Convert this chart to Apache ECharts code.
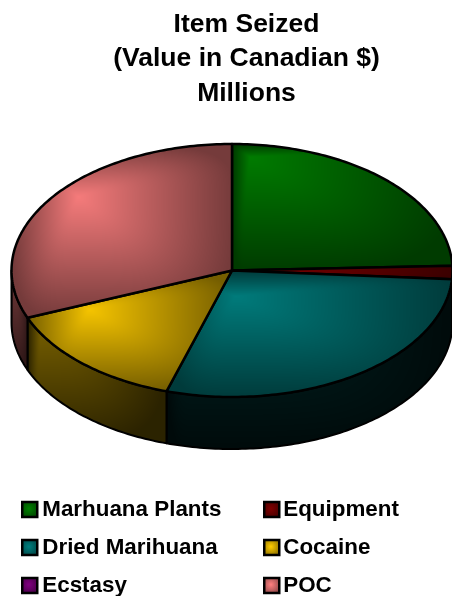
<!DOCTYPE html>
<html>
<head>
<meta charset="utf-8">
<style>html,body{margin:0;padding:0;background:#fff}#chart{width:452px;height:596px}</style>
<script src="https://cdn.jsdelivr.net/npm/echarts@6/dist/echarts.min.js"></script>
</head>
<body>
<div id="chart"></div>
<script>
// Seizure shares per item, clockwise from twelve o'clock
const categories = ['Marhuana Plants', 'Equipment', 'Dried Marihuana', 'Cocaine', 'Ecstasy', 'POC'];
const seizedValues = [24.4, 1.7, 28.7, 14.1, 0, 31.1];
const baseColors = [[0, 128, 0], [128, 0, 0], [0, 128, 128], [255, 204, 0], [128, 0, 128], [255, 128, 128]];
// Brightness of the rim wall: [top/left, bottom/right]
const wallShade = [[0.4, 0.2], [0.3, 0.12], [0.32, 0.08], [0.48, 0.17], [0.4, 0.18], [0.44, 0.18]];
// Where the highlight sits on each top face, as a fraction of its box
const topFocus = [[0.08, 0.1], [0.1, 0.3], [0.24, 0.2], [0.3, 0.32], [0.3, 0.3], [0.3, 0.3]];
// Legend rows and columns
const legendRows = [0, 0, 1, 1, 2, 2];
const legendCols = [0, 1, 0, 1, 0, 1];

// Tilted disc layout
const CX = 232, CY = 270.5, RX = 220.5, RY = 126.5, DEPTH = 52;
const W = 452, H = 596;

const total = seizedValues.reduce((a, b) => a + b, 0);
const spans = [];
seizedValues.reduce((acc, v) => {
  const end = acc + v / total * 360;
  spans.push([acc, end]);
  return end;
}, 0);

const px = deg => CX + RX * Math.sin(deg * Math.PI / 180);
const py = deg => CY - RY * Math.cos(deg * Math.PI / 180);

function arcPoints(a, b, dy) {
  const pts = [];
  const n = Math.max(1, Math.ceil(Math.abs(b - a)));
  for (let i = 0; i <= n; i++) {
    const d = a + (b - a) * i / n;
    pts.push([px(d), py(d) + dy]);
  }
  return pts;
}

// Two-axis shading: brightest at a focus, falling off toward the box edges
function texture(box, focus, rgb, hi, lo) {
  const c = document.createElement('canvas');
  c.width = W; c.height = H;
  const ctx = c.getContext('2d');
  const img = ctx.createImageData(W, H);
  const fx = box[0] + (box[2] - box[0]) * focus[0];
  const fy = box[1] + (box[3] - box[1]) * focus[1];
  for (let y = 0; y < H; y++) {
    for (let x = 0; x < W; x++) {
      const dx = x < fx ? (fx - x) / Math.max(1, fx - box[0]) : (x - fx) / Math.max(1, box[2] - fx);
      const dy = y < fy ? (fy - y) / Math.max(1, fy - box[1]) : (y - fy) / Math.max(1, box[3] - fy);
      const t = Math.min(1, Math.pow(Math.pow(dx, 4) + Math.pow(dy, 4), 0.25));
      const k = hi + (lo - hi) * t;
      const o = (y * W + x) * 4;
      img.data[o] = rgb[0] * k;
      img.data[o + 1] = rgb[1] * k;
      img.data[o + 2] = rgb[2] * k;
      img.data[o + 3] = 255;
    }
  }
  ctx.putImageData(img, 0, 0);
  return c;
}

function bounds(pts) {
  const xs = pts.map(p => p[0]), ys = pts.map(p => p[1]);
  return [Math.min(...xs), Math.min(...ys), Math.max(...xs), Math.max(...ys)];
}

function sliceElements(i) {
  const [a, b] = spans[i];
  const children = [];
  if (b - a <= 0) return children;

  // Rim wall for the part of the slice that faces the viewer
  const wa = Math.max(a, 90), wb = Math.min(b, 270);
  if (wb > wa) {
    const pts = arcPoints(wa, wb, 0).concat(arcPoints(wb, wa, DEPTH));
    children.push({
      type: 'polygon',
      shape: { points: pts },
      style: {
        fill: { image: texture(bounds(pts), [0.1, 0], baseColors[i], wallShade[i][0], wallShade[i][1]), repeat: 'no-repeat' },
        stroke: '#000', lineWidth: 2, lineJoin: 'round'
      }
    });
  }

  // Top face
  const pts = [[CX, CY]].concat(arcPoints(a, b, 0));
  children.push({
    type: 'polygon',
    z2: 10,
    shape: { points: pts },
    style: {
      fill: { image: texture(bounds(pts), topFocus[i], baseColors[i], 0.96, 0.46), repeat: 'no-repeat' },
      stroke: '#000', lineWidth: 2.5, lineJoin: 'round'
    }
  });
  return children;
}

function swatch(i) {
  const [r, g, b] = baseColors[i];
  return {
    type: 'radial', x: 0.45, y: 0.45, r: 0.7,
    colorStops: [
      { offset: 0, color: `rgb(${r},${g},${b})` },
      { offset: 1, color: `rgb(${r * 0.45},${g * 0.45},${b * 0.45})` }
    ]
  };
}

const chart = echarts.init(document.getElementById('chart'), null, { renderer: 'canvas' });
chart.setOption({
  animation: false,
  backgroundColor: '#fff',
  title: {
    text: 'Item Seized\n(Value in Canadian $)\nMillions',
    left: 246.5, top: 7, textAlign: 'center', padding: 0,
    textStyle: { fontFamily: 'Liberation Sans', fontWeight: 'bold', fontSize: 26.5, lineHeight: 34.5, color: '#000' }
  },
  legend: categories.map((name, i) => ({
    left: legendCols[i] ? 263 : 21,
    top: 498.5 + legendRows[i] * 38,
    itemWidth: 15, itemHeight: 15, itemGap: 0, padding: 0,
    selectedMode: false,
    textStyle: { fontFamily: 'Liberation Sans', fontWeight: 'bold', fontSize: 22.4, color: '#000', padding: legendCols[i] ? [0, 0, 0, -1] : [0, 0, 0, 0] },
    data: [{ name, icon: 'rect', itemStyle: { color: swatch(i), borderColor: '#000', borderWidth: 2.5 } }]
  })),
  series: categories.map((name, i) => ({
    type: 'custom',
    name,
    coordinateSystem: 'none',
    silent: true,
    clip: false,
    data: [seizedValues[i]],
    itemStyle: { color: `rgb(${baseColors[i].join(',')})` },
    renderItem: () => ({ type: 'group', children: sliceElements(i) })
  }))
});
</script>
</body>
</html>
